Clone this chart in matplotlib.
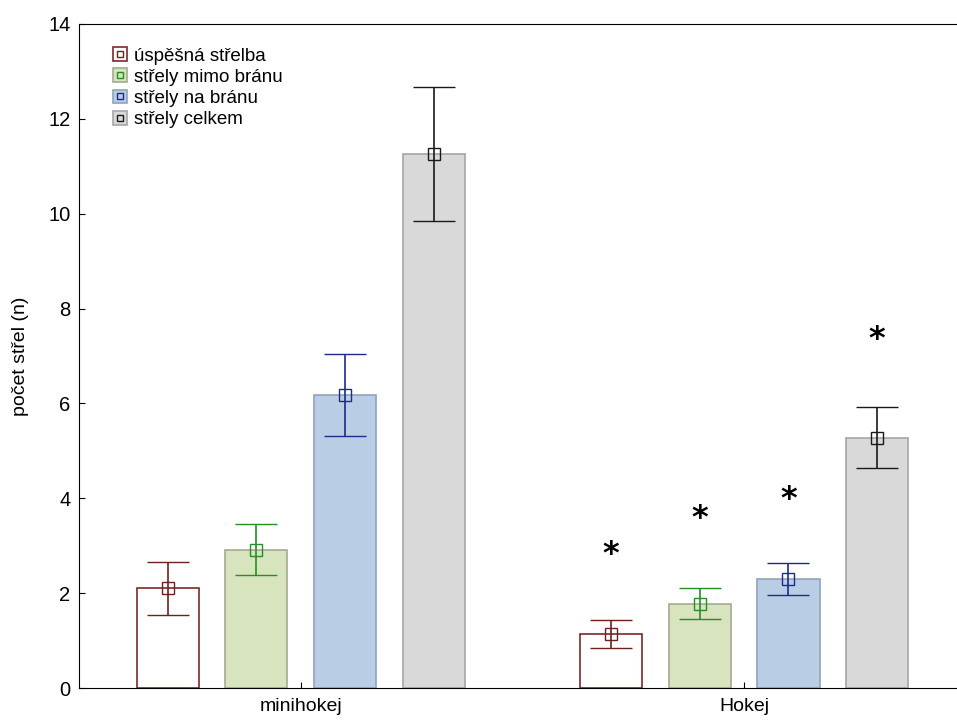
import matplotlib.pyplot as plt
from matplotlib.lines import Line2D
from matplotlib.patches import Patch
from matplotlib.legend_handler import HandlerTuple

plt.rcParams["font.family"] = ["Liberation Sans", "DejaVu Sans"]

groups = ["minihokej", "Hokej"]
series = ["úspěšná střelba", "střely mimo bránu", "střely na bránu", "střely celkem"]

# mean number of shots per group (rows: series, cols: groups)
means = [
    [2.10, 1.14],
    [2.92, 1.78],
    [6.18, 2.30],
    [11.25, 5.28],
]
errors = [
    [0.56, 0.30],
    [0.54, 0.33],
    [0.87, 0.33],
    [1.41, 0.64],
]
# significance asterisks above the Hokej bars
star_y = [2.97, 3.71, 4.13, 7.50]

face_colors = ["white", "#d7e4bd", "#b9cde5", "#d9d9d9"]
edge_colors = ["#7a2a2a", "#a3ab92", "#8fa3bd", "#a6a6a6"]
err_colors = ["#6e2020", "#239023", "#1c2a8a", "#1a1a1a"]

fig = plt.figure(figsize=(9.57, 7.22), dpi=100)
ax = fig.add_axes([0.0825, 0.047, 0.9175, 0.92])

step = 0.2
width = 0.14
handles = []
for i, name in enumerate(series):
    offset = (i - 1.5) * step
    xs = [g + offset for g in range(len(groups))]
    ax.bar(xs, means[i], width=width, color=face_colors[i],
           edgecolor=edge_colors[i], linewidth=1.2, zorder=2)
    ax.errorbar(xs, means[i], yerr=errors[i], fmt="s", ms=8, mfc="none",
                mec=err_colors[i], mew=1.0, ecolor=err_colors[i],
                elinewidth=1.2, capsize=15, capthick=1.2, zorder=3)
    ax.annotate("*", (1 + offset, star_y[i]), xytext=(0, -5),
                textcoords="offset points", ha="center", va="center",
                fontsize=23, fontweight="bold", family="DejaVu Sans", zorder=4)
    patch = Patch(facecolor=face_colors[i], edgecolor=edge_colors[i], linewidth=1.2)
    marker = Line2D([], [], marker="s", ms=5, mfc="none", mec=err_colors[i],
                    mew=1.0, ls="none")
    handles.append((patch, marker))

ax.set_xlim(-0.5, 1.48)
ax.set_ylim(0, 14)
ax.set_xticks(range(len(groups)))
ax.set_xticklabels(groups)
ax.set_yticks(range(0, 15, 2))
ax.tick_params(direction="in", length=4)
ax.tick_params(axis="x", labelsize=14, pad=7)
ax.tick_params(axis="y", labelsize=14.5, pad=6)
ax.set_ylabel("počet střel (n)", fontsize=14, labelpad=14)
ax.spines["right"].set_visible(False)

leg = ax.legend(handles, series, handler_map={tuple: HandlerTuple(ndivide=1, pad=0)},
                loc="upper left", bbox_to_anchor=(0.019, 0.99), frameon=False,
                fontsize=13.5, handlelength=0.75, handleheight=0.75,
                handletextpad=0.4, labelspacing=0.2)

fig.savefig("out.png", dpi=100)
